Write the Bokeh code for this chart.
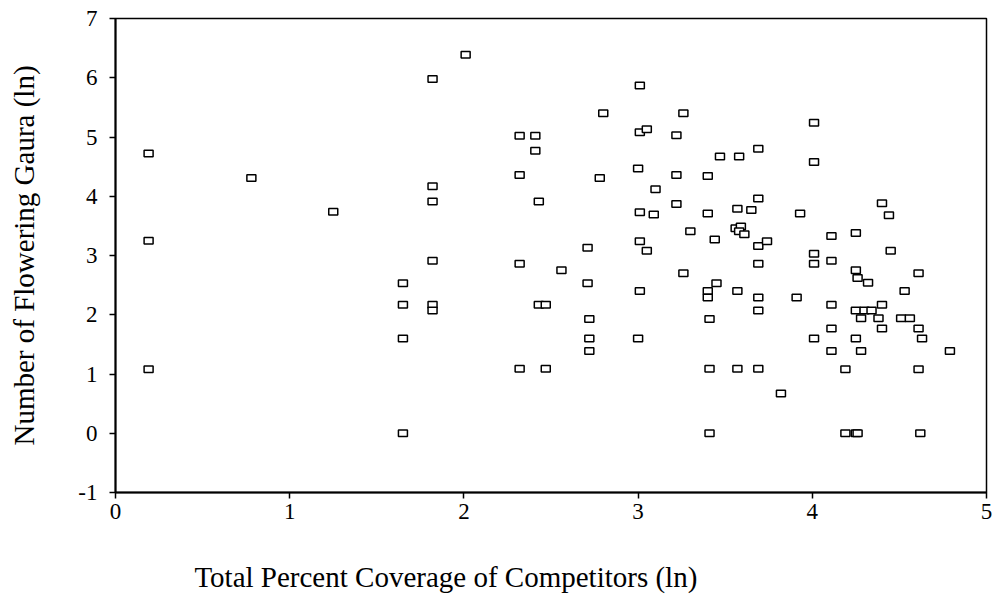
from bokeh.plotting import figure
from bokeh.models import Range1d, FixedTicker, LinearAxis
from bokeh.embed import file_html
from bokeh.resources import INLINE

# Total percent coverage of competitors (ln)
x_cov = [
    0.19, 0.19, 0.19, 0.78, 1.25,
    1.65, 1.65, 1.65, 1.65,
    1.82, 1.82, 1.82, 1.82, 1.82, 1.82,
    2.01, 2.32, 2.32, 2.32, 2.32, 2.41, 2.41, 2.43, 2.43, 2.47, 2.47,
    2.56, 2.71, 2.71, 2.72, 2.72, 2.72, 2.78, 2.80,
    3.00, 3.00, 3.01, 3.01, 3.01, 3.01, 3.01, 3.05, 3.05, 3.09, 3.10,
    3.22, 3.22, 3.22, 3.26, 3.26, 3.30,
    3.40, 3.40, 3.40, 3.40, 3.41, 3.41, 3.41, 3.44, 3.45, 3.47,
    3.56, 3.59, 3.58, 3.61, 3.57, 3.57, 3.57, 3.58, 3.65,
    3.69, 3.69, 3.69, 3.69, 3.69, 3.69, 3.69, 3.74, 3.82,
    3.91, 3.93, 4.01, 4.01, 4.01, 4.01, 4.01,
    4.11, 4.11, 4.11, 4.11, 4.11, 4.19, 4.19,
    4.25, 4.25, 4.25, 4.25, 4.25, 4.26, 4.26, 4.28, 4.28, 4.30, 4.32, 4.34,
    4.38, 4.40, 4.40, 4.40, 4.44, 4.45, 4.51, 4.53, 4.56,
    4.61, 4.61, 4.61, 4.62, 4.63, 4.79,
]

# Number of flowering Gaura (ln)
y_gaura = [
    4.72, 3.25, 1.08, 4.31, 3.74,
    2.53, 2.17, 1.60, 0.00,
    5.98, 4.17, 3.91, 2.91, 2.17, 2.07,
    6.39, 5.02, 4.36, 2.86, 1.09, 5.02, 4.77, 3.91, 2.17, 2.17, 1.09,
    2.75, 3.13, 2.53, 1.93, 1.60, 1.39, 4.31, 5.40,
    4.47, 1.60, 5.87, 5.08, 3.73, 3.24, 2.40, 5.13, 3.08, 3.69, 4.12,
    5.03, 4.36, 3.87, 5.40, 2.70, 3.41,
    4.34, 3.71, 2.40, 2.29, 1.93, 1.09, 0.00, 3.27, 2.53, 4.67,
    3.46, 3.49, 3.41, 3.36, 3.79, 2.40, 1.09, 4.67, 3.77,
    4.80, 3.96, 3.16, 2.86, 2.29, 2.07, 1.09, 3.24, 0.67,
    2.29, 3.71, 5.24, 4.58, 3.03, 2.86, 1.60,
    3.33, 2.91, 2.17, 1.77, 1.39, 1.08, 0.00,
    3.38, 2.75, 2.07, 1.60, 0.00, 2.62, 0.00, 1.94, 1.39, 2.07, 2.54, 2.07,
    1.94, 3.88, 2.17, 1.77, 3.68, 3.08, 1.94, 2.40, 1.94,
    2.70, 1.77, 1.08, 0.00, 1.60, 1.39,
]

x_ticks = [0, 1, 2, 3, 4, 5]
y_ticks = [-1, 0, 1, 2, 3, 4, 5, 6, 7]
y_tick_labels = {t: str(t) for t in y_ticks}

x_title = "Total Percent Coverage of Competitors (ln)"
y_title = "Number of Flowering Gaura (ln)"

FONT = "Liberation Serif"

p = figure(
    width=992, height=600,
    output_backend="svg", toolbar_location=None,
    x_range=Range1d(0, 5), y_range=Range1d(-1, 7),
    min_border_left=115, min_border_right=6,
    min_border_top=18, min_border_bottom=108,
)
p.xgrid.visible = False
p.ygrid.visible = False
p.background_fill_color = "white"
p.border_fill_color = "white"
p.outline_line_color = "black"
p.outline_line_width = 1.5
p.outline_line_alpha = 1.0

for ax in (p.xaxis[0], p.yaxis[0]):
    ax.axis_line_color = "black"
    ax.axis_line_width = 2
    ax.major_tick_line_color = "black"
    ax.major_tick_line_width = 1.5
    ax.major_tick_in = 0
    ax.major_tick_out = 6
    ax.minor_tick_line_color = None
    ax.major_label_text_font = FONT
    ax.major_label_text_font_size = "23px"
    ax.major_label_text_color = "black"

p.xaxis.ticker = FixedTicker(ticks=x_ticks)
p.yaxis.ticker = FixedTicker(ticks=y_ticks)
p.yaxis.major_label_overrides = y_tick_labels
p.xaxis.major_label_standoff = 5
p.yaxis.major_label_standoff = 12

p.yaxis.axis_label = y_title
p.yaxis.axis_label_text_font = FONT
p.yaxis.axis_label_text_font_size = "29px"
p.yaxis.axis_label_text_font_style = "normal"
p.yaxis.axis_label_text_color = "black"
p.yaxis.axis_label_standoff = 35

p.rect(
    x=x_cov, y=y_gaura, width=9, height=6.5,
    width_units="screen", height_units="screen",
    fill_color="white", line_color="black", line_width=1.5,
)

# bare second axis that only carries the x title; trailing no-break spaces
# move the visible text left of the frame centre, as in the reference
title_axis = LinearAxis(
    ticker=FixedTicker(ticks=[]),
    axis_line_color=None,
    major_tick_line_color=None, minor_tick_line_color=None,
    major_tick_in=0, major_tick_out=0, minor_tick_in=0, minor_tick_out=0,
    major_label_standoff=0,
    axis_label=x_title + "\u00a0" * 29,
    axis_label_standoff=39,
    axis_label_text_font=FONT,
    axis_label_text_font_size="29px",
    axis_label_text_font_style="normal",
    axis_label_text_color="black",
)
p.add_layout(title_axis, "below")

open("out.html", "w").write(file_html(p, INLINE))
